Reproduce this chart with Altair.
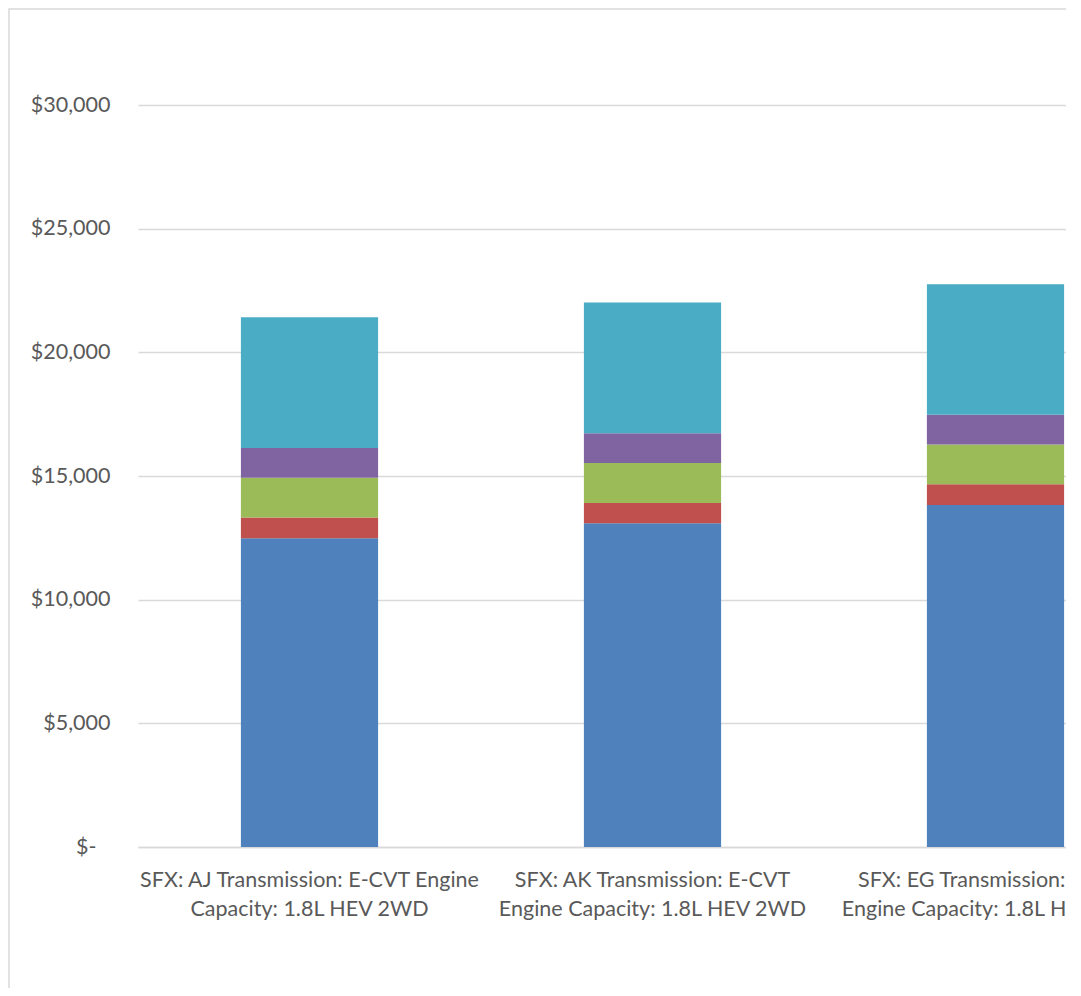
import altair as alt
import pandas as pd

categories = [
    "SFX: AJ Transmission: E-CVT Engine Capacity: 1.8L HEV 2WD",
    "SFX: AK Transmission: E-CVT Engine Capacity: 1.8L HEV 2WD",
    "SFX: EG Transmission: E-CVT Engine Capacity: 1.8L HEV 2WD",
]
label_lines = [
    ["SFX: AJ Transmission: E-CVT Engine", "Capacity: 1.8L HEV 2WD"],
    ["SFX: AK Transmission: E-CVT", "Engine Capacity: 1.8L HEV 2WD"],
    ["SFX: EG Transmission: E-CVT", "Engine Capacity: 1.8L HEV 2WD"],
]
series = ["Series 1", "Series 2", "Series 3", "Series 4", "Series 5"]
colors = ["#4F81BD", "#C0504D", "#9BBB59", "#8064A2", "#4BACC6"]
values = {
    "Series 1": [12480, 13090, 13830],
    "Series 2": [840, 820, 840],
    "Series 3": [1610, 1620, 1600],
    "Series 4": [1200, 1200, 1210],
    "Series 5": [5290, 5280, 5270],
}
y_ticks = [0, 5000, 10000, 15000, 20000, 25000, 30000]

rows = []
for si, s in enumerate(series):
    for ci, c in enumerate(categories):
        rows.append({"category": c, "series": s, "value": values[s][ci], "order": si})
df = pd.DataFrame(rows)

# label expression for wrapped category labels
expr = "''"
for c, lines in reversed(list(zip(categories, label_lines))):
    arr = "[" + ",".join("'" + l + "'" for l in lines) + "]"
    expr = f"datum.label == '{c}' ? {arr} : ({expr})"

FONT = "Lato"
FSIZE = 21.5
TEXT = "#595959"
GRID = "#D9D9D9"

bars = alt.Chart(df).mark_bar().encode(
    x=alt.X(
        "category:N",
        sort=categories,
        scale=alt.Scale(range=[0, 1029], paddingInner=0.6, paddingOuter=0.3),
        axis=alt.Axis(
            title=None,
            labelExpr=expr,
            labelAngle=0,
            labelFont=FONT,
            labelFontSize=FSIZE,
            labelColor=TEXT,
            labelLineHeight=29,
            labelPadding=22,
            labelLimit=2000,
            labelOverlap=False,
            ticks=False,
            domainColor=GRID,
            domainWidth=1.5,
            grid=False,
        ),
    ),
    y=alt.Y(
        "value:Q",
        stack="zero",
        scale=alt.Scale(domain=[0, 30000], nice=False),
        axis=alt.Axis(
            title=None,
            values=y_ticks,
            labelExpr="datum.value == 0 ? '$-' : '$' + format(datum.value, ',')",
            labelFont=FONT,
            labelFontSize=FSIZE,
            labelColor=TEXT,
            labelPadding={"condition": {"test": "datum.value == 0", "value": 42}, "value": 28},
            ticks=False,
            domain=False,
            gridColor=GRID,
            gridWidth=1.3,
        ),
    ),
    color=alt.Color("series:N", scale=alt.Scale(domain=series, range=colors), legend=None),
    order=alt.Order("order:Q", sort="ascending"),
)

frame = alt.Chart(pd.DataFrame({"v": [0]})).mark_rect(
    fill=None, stroke=GRID, strokeWidth=1.5
).encode(
    x=alt.value(-129),
    x2=alt.value(1200),
    y=alt.value(-96),
    y2=alt.value(1000),
)

chart = alt.layer(frame, bars).properties(
    width=928,
    height=742,
    autosize=alt.AutoSizeParams(type="none"),
    padding={"left": 130, "top": 97, "right": 0, "bottom": 141},
).configure_view(stroke=None)

chart.save("out.html", embed_options={"renderer": "svg", "actions": False})
